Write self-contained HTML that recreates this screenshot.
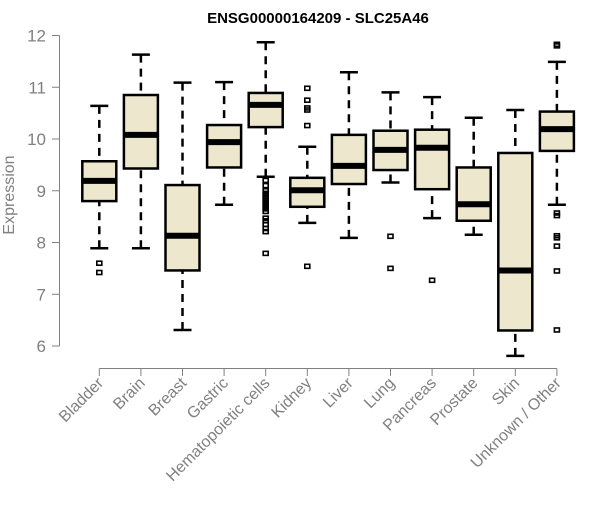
<!DOCTYPE html>
<html><head><meta charset="utf-8"><style>
body{margin:0;background:#fff}
svg text{font-family:"Liberation Sans",Arial,sans-serif}
</style></head><body>
<svg id="chart" width="600" height="500">
<text x="318" y="23" text-anchor="middle" font-weight="bold" font-size="15">ENSG00000164209 - SLC25A46</text>
<text transform="translate(14,195) rotate(-90)" text-anchor="middle" font-size="16" fill="#808080">Expression</text>
<g id="yaxis"></g>
<g id="xaxis"></g>
<g id="boxes"></g>
</svg>
<script>
const categories=["Bladder","Brain","Breast","Gastric","Hematopoietic cells","Kidney","Liver","Lung","Pancreas","Prostate","Skin","Unknown / Other"];
const whiskerLow=[7.89,7.89,6.31,8.73,9.27,8.38,8.09,9.16,8.47,8.15,5.81,8.73];
const q1=[8.80,9.43,7.46,9.45,10.23,8.69,9.13,9.40,9.03,8.42,6.30,9.77];
const median=[9.19,10.08,8.13,9.94,10.66,9.01,9.48,9.79,9.83,8.74,7.46,10.19];
const q3=[9.57,10.85,9.11,10.27,10.89,9.25,10.08,10.16,10.18,9.45,9.73,10.53];
const whiskerHigh=[10.64,11.63,11.09,11.10,11.87,9.85,11.29,10.90,10.81,10.41,10.56,11.49];
const outliers=[[7.60,7.42],[],[],[],[9.2,9.1,9.0,8.95,8.9,8.85,8.8,8.75,8.7,8.65,8.6,8.47,8.42,8.35,8.27,8.21,7.79],[10.98,10.75,10.60,10.56,10.26,7.54],[],[8.12,7.50],[7.27],[],[],[11.83,11.80,8.57,8.52,8.13,8.09,7.93,7.45,6.31]];
const yTicks=[6,7,8,9,10,11,12];
const NS="http://www.w3.org/2000/svg";
const y=v=>346-(v-6)*51.75;
const x=i=>99.3+i*41.6;
function mk(tag,attrs,parent){const e=document.createElementNS(NS,tag);for(const k in attrs)e.setAttribute(k,attrs[k]);parent.appendChild(e);return e;}
const ya=document.getElementById('yaxis'),xa=document.getElementById('xaxis'),bx=document.getElementById('boxes');
mk('line',{x1:59.5,x2:59.5,y1:y(12),y2:y(6),stroke:'#808080'},ya);
yTicks.forEach(t=>{mk('line',{x1:52,x2:59.5,y1:y(t),y2:y(t),stroke:'#808080'},ya);
const tx=mk('text',{x:46,y:y(t)+6,'text-anchor':'end','font-size':17,fill:'#808080'},ya);tx.textContent=t;

});
mk('line',{x1:x(0),x2:x(categories.length-1),y1:368.5,y2:368.5,stroke:'#808080'},xa);
categories.forEach((c,i)=>{mk('line',{x1:x(i),x2:x(i),y1:368.5,y2:376,stroke:'#808080'},xa);
const tx=mk('text',{transform:`translate(${x(i)+5},384) rotate(-45)`,'text-anchor':'end','font-size':16,fill:'#808080'},xa);tx.textContent=c;


const g=mk('g',{},bx);


const cx=x(i);
mk('line',{x1:cx,x2:cx,y1:y(whiskerHigh[i]),y2:y(q3[i]),stroke:'#000','stroke-width':2.5,'stroke-dasharray':'8,6'},g);
mk('line',{x1:cx,x2:cx,y1:y(whiskerLow[i]),y2:y(q1[i]),stroke:'#000','stroke-width':2.5,'stroke-dasharray':'8,6'},g);
mk('line',{x1:cx-9,x2:cx+9,y1:y(whiskerHigh[i]),y2:y(whiskerHigh[i]),stroke:'#000','stroke-width':2.5},g);
mk('line',{x1:cx-9,x2:cx+9,y1:y(whiskerLow[i]),y2:y(whiskerLow[i]),stroke:'#000','stroke-width':2.5},g);
mk('rect',{x:cx-17,y:y(q3[i]),width:34,height:y(q1[i])-y(q3[i]),fill:'#ede7cd',stroke:'#000','stroke-width':2.5},g);
mk('line',{x1:cx-17,x2:cx+17,y1:y(median[i]),y2:y(median[i]),stroke:'#000','stroke-width':6},g);
outliers[i].forEach(v=>mk('rect',{x:cx-2.5,y:y(v)-2,width:5,height:4,fill:'none',stroke:'#000','stroke-width':1.6},g));
});
</script>
</body></html>
